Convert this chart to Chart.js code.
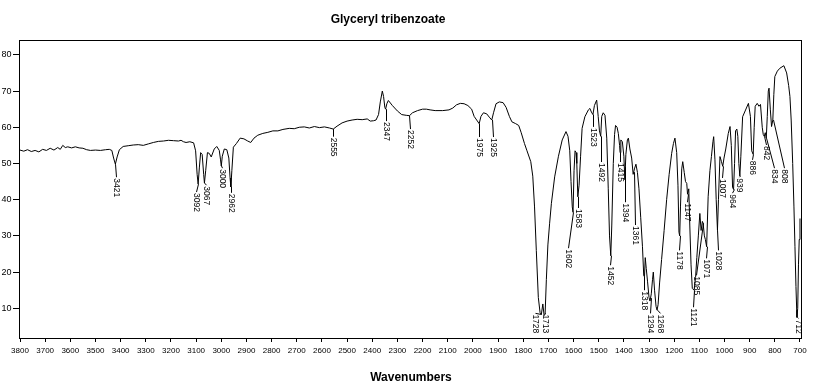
<!DOCTYPE html>
<html>
<head>
<meta charset="utf-8">
<title>Glyceryl tribenzoate</title>
<script src="https://cdn.jsdelivr.net/npm/chart.js@4.4.1/dist/chart.umd.min.js"></script>
<style>
  html, body { margin: 0; padding: 0; background: #fff; }
  #wrap { width: 813px; height: 385px; }
</style>
</head>
<body>
<div id="wrap"><canvas id="ir" width="813" height="385"></canvas></div>
<script>
// spectrum (cm-1 / %T)
const wavenumber = [
  3800, 3785, 3770, 3755, 3740, 3725, 3710, 3695, 3680, 3665, 3650, 3640, 3630, 3620, 3610, 3595,
  3580, 3565, 3550, 3535, 3520, 3500, 3480, 3460, 3445, 3435, 3428, 3421, 3414, 3405, 3390, 3370,
  3350, 3330, 3310, 3290, 3270, 3250, 3230, 3210, 3190, 3170, 3160, 3150, 3140, 3125, 3110, 3102,
  3096, 3092, 3087, 3082, 3076, 3070, 3067, 3062, 3055, 3048, 3040, 3028, 3018, 3008, 3003, 3000,
  2996, 2988, 2978, 2970, 2965, 2962, 2958, 2952, 2940, 2925, 2910, 2895, 2883, 2870, 2855, 2835,
  2815, 2795, 2775, 2755, 2730, 2710, 2690, 2670, 2650, 2630, 2610, 2590, 2570, 2555, 2540, 2520,
  2500, 2480, 2460, 2440, 2420, 2408, 2395, 2385, 2375, 2368, 2360, 2355, 2350, 2347, 2342, 2336,
  2320, 2300, 2283, 2265, 2252, 2240, 2220, 2200, 2185, 2170, 2150, 2120, 2095, 2080, 2065, 2050,
  2035, 2020, 2005, 1995, 1985, 1975, 1968, 1958, 1945, 1935, 1925, 1918, 1908, 1895, 1880, 1868,
  1855, 1845, 1830, 1818, 1808, 1795, 1785, 1770, 1762, 1755, 1748, 1740, 1733, 1728, 1722, 1717,
  1713, 1708, 1702, 1695, 1688, 1675, 1660, 1645, 1630, 1622, 1615, 1610, 1605, 1602, 1598, 1594,
  1590, 1587, 1583, 1578, 1572, 1566, 1555, 1541, 1535, 1529, 1523, 1517, 1508, 1502, 1497, 1492,
  1488, 1482, 1475, 1468, 1462, 1457, 1452, 1448, 1442, 1437, 1433, 1427, 1422, 1417, 1415, 1412,
  1406, 1400, 1396, 1392, 1386, 1382, 1376, 1369, 1363, 1358, 1352, 1346, 1340, 1333, 1326, 1321,
  1318, 1315, 1311, 1306, 1300, 1296, 1291, 1286, 1283, 1278, 1272, 1268, 1264, 1258, 1250, 1240,
  1230, 1220, 1210, 1203, 1197, 1190, 1185, 1181, 1178, 1175, 1170, 1166, 1160, 1155, 1150, 1147,
  1142, 1138, 1133, 1128, 1121, 1115, 1110, 1104, 1098, 1093, 1088, 1085, 1080, 1076, 1071, 1065,
  1058, 1052, 1046, 1043, 1038, 1033, 1028, 1024, 1018, 1012, 1007, 1002, 995, 985, 978, 973,
  968, 964, 960, 956, 951, 947, 943, 939, 935, 928, 918, 905, 897, 892, 886, 882,
  878, 870, 863, 857, 850, 846, 842, 838, 834, 830, 826, 823, 818, 813, 808, 804,
  800, 790, 780, 764, 753, 745, 740, 735, 729, 724, 720, 716, 713, 712, 709, 706,
  703, 700
];
const transmittance = [
  53.7, 53.4, 53.8, 53.3, 53.6, 53.2, 53.9, 53.6, 54.2, 53.7, 54.4, 53.9, 55.0, 54.4, 54.6, 54.3,
  54.6, 54.3, 54.2, 53.8, 53.6, 53.7, 53.6, 53.8, 53.9, 53.6, 51.5, 49.8, 51.8, 53.8, 54.7, 54.9,
  55.1, 55.2, 55.0, 55.4, 55.8, 56.1, 56.2, 56.4, 56.3, 56.2, 56.4, 56.0, 55.8, 56.0, 55.7, 53.5,
  47.0, 44.3, 49.0, 53.0, 52.5, 47.0, 44.6, 48.0, 53.0, 52.8, 51.8, 54.0, 54.7, 53.6, 51.0, 49.3,
  52.0, 54.0, 53.8, 51.5, 46.0, 43.5, 48.0, 54.5, 55.5, 57.0, 56.8, 56.2, 55.8, 57.0, 57.8, 58.3,
  58.6, 59.0, 59.0, 59.4, 59.7, 59.6, 60.0, 60.1, 59.8, 60.2, 59.9, 60.1, 59.8, 59.5, 60.3, 61.2,
  61.7, 62.0, 62.2, 62.1, 62.3, 61.7, 61.8, 62.0, 63.5, 67.0, 70.0, 68.5, 65.5, 65.0, 66.5, 67.4,
  66.0, 64.5, 63.5, 63.3, 63.2, 64.0, 64.6, 65.0, 65.0, 64.8, 64.6, 64.6, 64.8, 65.3, 66.2, 66.6,
  66.5, 66.0, 65.0, 63.0, 62.0, 61.0, 63.0, 64.0, 63.7, 62.8, 62.0, 64.0, 66.5, 67.0, 66.8, 65.5,
  63.0, 61.5, 61.0, 60.5, 58.5, 55.5, 53.5, 50.5, 46.5, 38.0, 26.0, 13.0, 8.8, 8.3, 11.2, 8.0,
  8.4, 18.0, 27.5, 33.5, 39.0, 46.3, 52.0, 56.5, 58.8, 57.5, 53.5, 45.0, 38.0, 36.5, 48.0, 53.5,
  53.0, 50.0, 40.8, 44.0, 52.0, 59.7, 62.9, 64.8, 65.2, 64.2, 63.5, 66.0, 67.5, 63.0, 59.0, 57.5,
  63.0, 64.0, 63.3, 57.0, 43.0, 30.0, 24.5, 33.0, 50.0, 58.0, 60.5, 60.0, 58.3, 55.0, 53.0, 56.5,
  56.0, 52.0, 45.5, 52.5, 56.5, 57.0, 54.0, 51.5, 47.0, 48.5, 49.8, 47.5, 43.0, 35.0, 27.0, 19.0,
  18.7, 24.0, 21.0, 17.5, 13.0, 12.0, 14.0, 18.0, 20.0, 15.0, 10.5, 9.5, 11.0, 17.0, 23.5, 31.5,
  40.0, 47.0, 52.8, 55.5, 57.0, 53.0, 44.0, 31.0, 30.0, 38.0, 48.5, 50.5, 47.5, 45.0, 44.5, 41.5,
  43.0, 33.0, 22.0, 15.5, 15.0, 18.5, 24.0, 30.0, 36.2, 31.5, 34.0, 33.5, 30.0, 29.0, 27.0, 40.8,
  48.0, 51.9, 56.0, 57.4, 51.0, 40.0, 31.6, 40.0, 51.9, 50.5, 49.2, 51.5, 54.0, 58.3, 60.2, 55.0,
  43.5, 42.8, 50.0, 59.0, 59.5, 57.5, 50.0, 46.5, 52.0, 62.9, 64.5, 66.6, 63.0, 53.5, 52.5, 60.0,
  65.8, 66.6, 65.8, 66.3, 60.0, 58.0, 57.5, 58.5, 57.0, 63.0, 70.0, 70.8, 65.0, 60.2, 62.0, 69.0,
  74.0, 75.5, 76.3, 77.0, 75.0, 71.5, 68.5, 62.0, 50.0, 38.0, 27.0, 16.0, 9.5, 7.5, 10.0, 22.0,
  29.0, 34.8
];

const xTicks = [3800, 3700, 3600, 3500, 3400, 3300, 3200, 3100, 3000, 2900, 2800, 2700, 2600, 2500,
  2400, 2300, 2200, 2100, 2000, 1900, 1800, 1700, 1600, 1500, 1400, 1300, 1200, 1100, 1000, 900, 800, 700];
const yTicks = [10, 20, 30, 40, 50, 60, 70, 80];

// peak picks: where the peak is, where its label text sits (wavenumber / %T of the text top)
const peakWn = [3421, 3092, 3067, 3000, 2962, 2555, 2347, 2252, 1975, 1925, 1728, 1713, 1602, 1583,
  1523, 1492, 1452, 1415, 1394, 1361, 1318, 1294, 1268, 1178, 1147, 1121, 1085, 1071, 1028, 1007,
  964, 939, 886, 842, 834, 808, 712];
const peakTextWn = [3419, 3100, 3062, 2998, 2961, 2555, 2345, 2250, 1976, 1922, 1753, 1714, 1621, 1581,
  1524, 1492, 1456, 1417, 1396, 1357, 1320, 1296, 1258, 1180, 1150, 1124, 1113, 1074, 1027, 1011,
  971, 941, 892, 835, 802, 764, 709];
const peakTextTop = [46.2, 42.1, 44.0, 48.7, 41.9, 57.4, 61.7, 59.5, 57.3, 57.3, 8.6, 8.6, 26.6, 37.7,
  60.1, 50.4, 21.9, 50.4, 39.3, 33.0, 15.0, 8.6, 8.6, 26.0, 39.3, 10.3, 19.1, 23.8, 26.0, 46.0,
  41.8, 46.2, 51.0, 55.1, 48.7, 48.7, 7.2];

const FONT = '"Liberation Sans", Arial, sans-serif';

function valueAt(w) {
  for (let i = 0; i < wavenumber.length - 1; i++) {
    const a = wavenumber[i], b = wavenumber[i + 1];
    if (w <= a && w >= b) {
      const t = (a - w) / (a - b);
      return transmittance[i] + t * (transmittance[i + 1] - transmittance[i]);
    }
  }
  return transmittance[transmittance.length - 1];
}

const irDecor = {
  id: 'irDecor',
  afterDatasetsDraw(chart) {
    const { ctx, chartArea: a, scales: { x, y } } = chart;
    ctx.save();
    ctx.strokeStyle = '#000';
    ctx.fillStyle = '#000';
    ctx.lineWidth = 1;

    // frame
    ctx.strokeRect(a.left - 0.5, a.top + 0.5, a.right - a.left, a.bottom - a.top);

    // peak labels
    ctx.font = '8.5px ' + FONT;
    ctx.textAlign = 'left';
    ctx.textBaseline = 'middle';
    peakWn.forEach((w, i) => {
      const x0 = Math.round(x.getPixelForValue(w)) + 0.5;
      const y0 = y.getPixelForValue(valueAt(w));
      const x1 = Math.round(x.getPixelForValue(peakTextWn[i])) + 0.5;
      const y1 = y.getPixelForValue(peakTextTop[i]);
      ctx.beginPath();
      ctx.moveTo(x0, y0);
      ctx.lineTo(x1, y1);
      ctx.stroke();
      ctx.save();
      ctx.translate(x1, y1 + 1);
      ctx.rotate(Math.PI / 2);
      ctx.fillText(String(w), 0, 0);
      ctx.restore();
    });

    // title
    ctx.font = 'bold 12px ' + FONT;
    ctx.textAlign = 'center';
    ctx.fillText('Glyceryl tribenzoate', 388, 20);
    ctx.restore();
  }
};

new Chart(document.getElementById('ir'), {
  type: 'line',
  data: {
    datasets: [{
      data: wavenumber.map((w, i) => ({ x: w, y: transmittance[i] })),
      borderColor: '#000',
      borderWidth: 1,
      pointRadius: 0,
      tension: 0,
      fill: false,
    }],
  },
  options: {
    responsive: false,
    animation: false,
    layout: { padding: { top: 40, right: 11, left: 0, bottom: 0 } },
    plugins: { legend: { display: false }, tooltip: { enabled: false } },
    scales: {
      x: {
        type: 'linear',
        reverse: true,
        min: 692,
        max: 3800,
        afterBuildTicks: s => { s.ticks = xTicks.map(v => ({ value: v })); },
        afterFit: s => { s.height = 47; },
        ticks: {
          autoSkip: false, maxRotation: 0, padding: 4, color: '#000',
          font: { family: FONT, size: 8 },
          callback: v => String(v),
        },
        grid: { display: true, drawOnChartArea: false, drawTicks: true, tickLength: 4, color: '#000' },
        border: { display: false },
        title: { display: true, text: 'Wavenumbers', color: '#000', padding: 0, font: { family: FONT, size: 12, weight: 'bold' } },
      },
      y: {
        min: 1.8,
        max: 84.1,
        afterBuildTicks: s => { s.ticks = yTicks.map(v => ({ value: v })); },
        afterFit: s => { s.width = 20; },
        ticks: { padding: 1.5, color: '#000', font: { family: FONT, size: 9 }, callback: v => String(v) },
        grid: { display: true, drawOnChartArea: false, drawTicks: true, tickLength: 7, color: '#000' },
        border: { display: false },
      },
    },
  },
  plugins: [irDecor],
});
</script>
</body>
</html>
